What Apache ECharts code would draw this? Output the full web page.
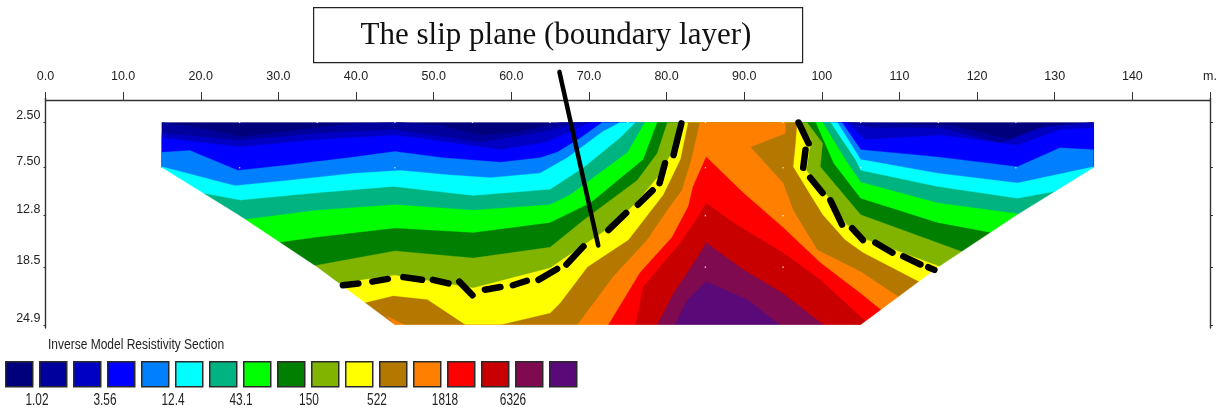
<!DOCTYPE html>
<html><head><meta charset="utf-8">
<style>html,body{margin:0;padding:0;background:#fff}#c{width:1223px;height:414px}</style>
<script src="https://cdn.jsdelivr.net/npm/echarts@6/dist/echarts.min.js"></script>
</head><body><div id="c"></div>
<script>
const distanceMax = 150;
const depthTicks = [2.5, 7.5, 12.8, 18.5, 24.9];
const depthLabels = ['2.50', '7.50', '12.8', '18.5', '24.9'];
const legendValues = ['1.02', '3.56', '12.4', '43.1', '150', '522', '1818', '6326'];
const bandColors = ['#00007c','#00009c','#0000c4','#0000ff','#0080ff','#00ffff','#00b482','#00ff00','#007f00','#80b400','#ffff00','#b47800','#ff8000','#ff0000','#c80000','#7f0a50','#5a0a78'];
const sectionOutline = [[15,2.5],[15,7.5],[25,12.8],[35,18.5],[45,24.9],[105,24.9],[115,18.5],[125,12.8],[135,7.5],[135,2.5]];
const c1=[[15,2.5],[19.9,3.1],[25.1,4.1],[32.8,3.3],[39.2,2.6],[45.7,2.5],[50.8,2.8],[56,3.9],[61.1,3.55],[66.3,2.5],[103.7,2.5],[116.6,2.8],[124.3,4.4],[128.8,2.8],[135,2.5]];
const c2=[[15,3.7],[25.1,4.5],[35,3.7],[45,3.3],[56,4.7],[63.7,3.6],[68.9,2.5],[103.4,2.5],[106.2,3.1],[115.3,3.1],[123,4.8],[128.2,3.1],[135,2.5]];
const c3=[[15,4.2],[25.1,5.2],[35,4.4],[45,3.9],[49.5,4.4],[58.6,5.5],[64.4,4.7],[70.2,2.5],[103.2,2.5],[105.6,4.4],[115.3,3.9],[125.2,5],[130.7,3.3],[135,3.1]];
const c4=[[15,5.8],[18.6,5.6],[24.8,7.8],[31.2,7.2],[39,6.4],[45,5.7],[51.2,6.4],[58.6,6.9],[63.7,6.4],[65.9,5.8],[68.9,4.2],[71.7,2.5],[102.6,2.5],[105,5.5],[114.9,6.3],[125.2,7.4],[130.7,5.3],[135,5.5]];
const c5=[[15,7.4],[24.4,9.5],[31.2,8.9],[39.9,8.1],[45.7,7.8],[52.1,8.3],[57.3,8.6],[63.7,8.1],[67.2,6.4],[71.8,3.5],[74,2.5],[102,2.5],[105,6.6],[114.9,8.1],[125.2,9.2],[135,7.4]];
const c6=[[20,10.3],[25.1,11.1],[35,10.3],[44.8,9.6],[55.1,10.6],[65,9.9],[69.3,7.5],[74,4.2],[76,2.5],[101.1,2.5],[104.3,6.6],[105,7.8],[114.9,9.6],[125.2,10.9],[131,10]];
const c7=[[25,13.3],[35,12.2],[45,11.6],[55.1,12.2],[65,11.6],[67.6,10.5],[75,5.8],[77.2,2.5],[100.1,2.5],[103,6.6],[105,9.1],[114.9,11.4],[127,12.8]];
const c8=[[29,15.9],[35,15.2],[45,14.2],[55.1,14.7],[65,13.6],[70.2,11.4],[77,6.6],[78.8,2.5],[99.2,2.5],[101.5,7],[105,10.9],[114.9,13.6],[123,14.9]];
const c9=[[33,18.6],[45,16.7],[55.1,17.5],[65,16.3],[69.3,13.3],[76.2,8.9],[78.8,5.9],[80.1,2.5],[98.1,2.5],[100.1,4.8],[99.8,7.4],[105,12.7],[114.9,15.8],[120,17.4]];
const c10=[[36,20.5],[45,19.4],[55.1,20.8],[65,18.6],[68.9,16.3],[72.7,14.1],[76.2,11.3],[78.9,8.5],[80.9,5.5],[81.5,2.5],[97.2,2.5],[98.6,4.4],[98,7.8],[100.6,10.5],[103.2,13.8],[105.9,15.5],[117,19]];
const c11=[[39,22.9],[44.8,21.7],[49.2,22.1],[54.1,24.9],[58.6,24.9],[65,23.6],[66.3,22.5],[69.8,18.5],[75.1,15.5],[79.6,10.5],[81.8,6.6],[82.8,2.5],[96.8,2.5],[96.6,4.8],[96.3,7.4],[98.5,10.5],[100.1,12.7],[103,15.5],[105.3,16.9],[114.5,21]];
const c12=[[68.5,24.9],[70.6,22.5],[73.1,19.6],[77.5,15.5],[80.1,12.2],[82,10],[83.3,6.3],[84.3,2.5],[95.3,2.5],[95.3,3.7],[90.8,5.2],[95,9.2],[96.3,12.2],[99.4,16.6],[105,19],[112,23]];
const c12patch=[[43.9,23.9],[46.3,24.9],[45,24.9]];
const c13=[[72.5,24.9],[76.6,19.1],[80.7,15.2],[82.8,11.8],[83.4,9.6],[85.1,6.3],[89.9,10.3],[95,14.1],[99.8,18],[105,21.4],[110,24.9]];
const c14=[[76,24.9],[77,20.7],[81.8,15.8],[84,13],[85.1,11.4],[88.6,13.6],[95,16.9],[99.8,19.9],[105,24],[106.3,24.9]];
const c15=[[78.8,24.9],[80.9,21.4],[84,17.4],[85.1,15.8],[89.9,18.8],[95,21.4],[100.2,24.9]];
const c16=[[81.1,24.9],[82.7,22.1],[85.1,20.1],[90.4,22.1],[94.6,24.9]];
const slipDashes=[
[[38.3,20.5],[40.3,20.3]],[[42.1,20.1],[44.1,19.8]],[[46.1,19.6],[48.5,19.9]],[[49.9,19.9],[51.9,20.3]],
[[53.3,20.1],[55,21.6]],[[56.6,21],[58.6,20.7]],[[60.2,20.5],[62,20]],[[63.5,19.9],[65.9,18.7]],
[[67.1,18.2],[69.3,16.2]],[[72.5,14.4],[74.8,12.5]],[[76.3,11.6],[78.2,10]],[[79.1,9.2],[79.8,7]],[[80.9,6.1],[81.9,2.6]],
[[97,2.5],[98.3,4.8]],[[97.9,5.5],[97.6,7.5]],[[98.5,8.6],[100.1,10.3]],[[101.1,11.1],[102.6,13.8]],
[[103.9,14.2],[105.3,15.5]],[[106.9,15.8],[109.1,16.9]],[[110.5,17.3],[112.7,18.2]],[[113.7,18.5],[114.5,18.8]]];
const pointerLine=[[66.2,-3.1],[71.2,16.1]];
const modelNodes=[[25,2.5],[35,2.5],[45,2.5],[55,2.5],[65,2.5],[75,2.5],[85,2.5],[95,2.5],[105,2.5],[115,2.5],[125,2.5],
[25,7.5],[45,7.5],[85,7.5],[95,7.5],[105,7.5],[125,7.5],[85,12.8],[95,12.8],[85,18.5],[95,18.5]];

const SANS='"Liberation Sans",sans-serif';
const bottomDepth=24.9;
function closeBelow(c){return c.concat([[135,bottomDepth],[15,bottomDepth]]);}
const bands=[
 {color:bandColors[0],pts:sectionOutline},
 {color:bandColors[1],pts:closeBelow(c1)},{color:bandColors[2],pts:closeBelow(c2)},{color:bandColors[3],pts:closeBelow(c3)},
 {color:bandColors[4],pts:closeBelow(c4)},{color:bandColors[5],pts:closeBelow(c5)},{color:bandColors[6],pts:closeBelow(c6)},
 {color:bandColors[7],pts:closeBelow(c7)},{color:bandColors[8],pts:closeBelow(c8)},{color:bandColors[9],pts:closeBelow(c9)},
 {color:bandColors[10],pts:closeBelow(c10)},{color:bandColors[11],pts:closeBelow(c11)},{color:bandColors[12],pts:closeBelow(c12)},
 {color:bandColors[12],pts:c12patch},
 {color:bandColors[13],pts:c13},{color:bandColors[14],pts:c14},{color:bandColors[15],pts:c15},{color:bandColors[16],pts:c16},
 {color:'#ffffff',pts:[[15,7.5],[25,12.8],[35,18.5],[45,24.9],[45,25.15],[14.5,25.15],[14.5,7.5]]},
 {color:'#ffffff',pts:[[105,24.9],[115,18.5],[125,12.8],[135,7.5],[135.5,7.5],[135.5,25.15],[105,25.15]]},
 {color:'#ffffff',pts:[[45,24.9],[105,24.9],[105,25.15],[45,25.15]]}
];
const chart=echarts.init(document.getElementById('c'),null,{renderer:'canvas'});
const legendGraphics=[];
bandColors.forEach((col,i)=>{legendGraphics.push({type:'rect',left:5+34*i,top:361,shape:{width:27,height:25},style:{fill:col,stroke:'#2a2a2a',lineWidth:1.5}});});
legendValues.forEach((t,i)=>{legendGraphics.push({type:'text',x:37+68*i,y:401,scaleX:0.74,style:{text:t,font:'16px '+SANS,fill:'#222',textAlign:'center',textVerticalAlign:'middle'}});});
legendGraphics.push({type:'text',x:48,y:345,scaleX:0.8,style:{text:'Inverse Model Resistivity Section',font:'15px '+SANS,fill:'#222',textAlign:'left',textVerticalAlign:'middle'}});
legendGraphics.push({type:'rect',left:313,top:7,shape:{width:489,height:55},style:{fill:'#fff',stroke:'#222',lineWidth:1.2}});
legendGraphics.push({type:'text',x:556,y:36,style:{text:'The slip plane (boundary layer)',font:'31px "Liberation Serif",serif',fill:'#111',textAlign:'center',textVerticalAlign:'middle'}});
const axisCol='#333';
chart.setOption({
 animation:false,backgroundColor:'#fff',
 grid:{left:45.5,right:13,top:98.3,height:229.7,containLabel:false},
 xAxis:{type:'value',position:'top',min:0,max:distanceMax,interval:10,splitLine:{show:false},
  axisLine:{lineStyle:{color:axisCol,width:1.4}},axisTick:{length:8,inside:false,lineStyle:{color:axisCol}},
  axisLabel:{margin:15,fontFamily:SANS,fontSize:12.5,color:'#222',showMinLabel:true,showMaxLabel:true,
   formatter:v=>v===distanceMax?'m.':(v<100?v.toFixed(1):String(v))}},
 yAxis:[
  {type:'value',inverse:true,min:-0.18,max:25.23,position:'left',splitLine:{show:false},
   axisLine:{show:true,lineStyle:{color:axisCol,width:1.4}},
   axisTick:{show:true,length:2,customValues:depthTicks,lineStyle:{color:axisCol}},
   axisLabel:{margin:5,fontFamily:SANS,fontSize:12.5,color:'#222',customValues:depthTicks,verticalAlign:'bottom',
    formatter:v=>depthLabels[depthTicks.indexOf(v)]}},
  {type:'value',inverse:true,min:-0.18,max:25.23,position:'right',splitLine:{show:false},
   axisLine:{show:true,lineStyle:{color:axisCol,width:1.4}},
   axisTick:{show:true,length:3,customValues:depthTicks,lineStyle:{color:axisCol}},axisLabel:{show:false}}
 ],
 graphic:legendGraphics,
 series:[
  {type:'custom',name:'Resistivity bands',coordinateSystem:'cartesian2d',clip:false,silent:true,
   data:bands.map((b,i)=>[i]),
   renderItem:(p,api)=>{const b=bands[api.value(0)];
    return {type:'polygon',shape:{points:b.pts.map(q=>api.coord(q))},style:{fill:b.color,stroke:b.color,lineWidth:0.3}};},z:2},
  {type:'scatter',name:'Model nodes',data:modelNodes,symbolSize:1.6,itemStyle:{color:'#fff',opacity:0.75},silent:true,z:3},
  {type:'custom',name:'Slip plane',coordinateSystem:'cartesian2d',clip:false,silent:true,z:4,
   data:slipDashes.map((d,i)=>[i]),
   renderItem:(p,api)=>{const d=slipDashes[api.value(0)];
    return {type:'polyline',shape:{points:d.map(q=>api.coord(q))},style:{stroke:'#000',lineWidth:6.5,lineCap:'round',fill:null}};}},
  {type:'custom',name:'Pointer',coordinateSystem:'cartesian2d',clip:false,silent:true,z:5,
   data:[[0]],
   renderItem:(p,api)=>({type:'polyline',shape:{points:pointerLine.map(q=>api.coord(q))},style:{stroke:'#000',lineWidth:4.5,lineCap:'round',fill:null}})}
 ]
});
</script></body></html>
